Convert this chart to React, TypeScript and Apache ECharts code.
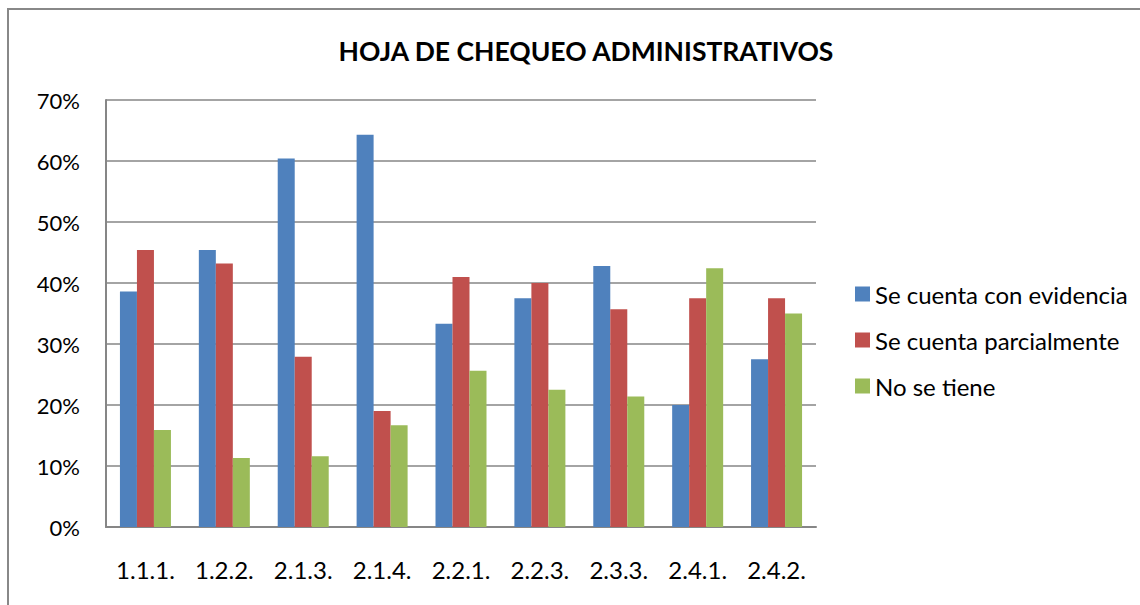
import React, { useEffect, useRef } from "react";
import * as echarts from "echarts";

const categories = ["1.1.1.", "1.2.2.", "2.1.3.", "2.1.4.", "2.2.1.", "2.2.3.", "2.3.3.", "2.4.1.", "2.4.2."];
const conEvidencia = [38.6, 45.4, 60.4, 64.3, 33.3, 37.5, 42.8, 20.0, 27.5];
const parcialmente = [45.4, 43.2, 27.9, 19.0, 41.0, 40.0, 35.7, 37.5, 37.5];
const noSeTiene = [15.9, 11.3, 11.6, 16.7, 25.6, 22.5, 21.4, 42.4, 35.0];
const seriesNames = ["Se cuenta con evidencia", "Se cuenta parcialmente", "No se tiene"];
const seriesColors = ["#4F81BD", "#C0504D", "#9BBB59"];

const FONT = "Lato, 'Open Sans', sans-serif";

export default function App() {
  const ref = useRef<HTMLDivElement>(null);

  useEffect(() => {
    if (!ref.current) return;
    const chart = echarts.init(ref.current, null, { renderer: "svg" });
    const values = [conEvidencia, parcialmente, noSeTiene];
    chart.setOption({
      animation: false,
      backgroundColor: "#ffffff",
      textStyle: { fontFamily: FONT },
      title: {
        text: "HOJA DE CHEQUEO ADMINISTRATIVOS",
        left: 581,
        top: 32,
        textAlign: "center",
        textStyle: { fontFamily: FONT, fontSize: 26.5, fontWeight: "bold", color: "#000" },
      },
      graphic: [
        {
          type: "rect",
          shape: { x: 8, y: 9, width: 1300, height: 800 },
          style: { fill: "none", stroke: "#888888", lineWidth: 2 },
          silent: true,
          z: 100,
        },
      ],
      legend: {
        orient: "vertical",
        left: 855,
        top: 282,
        padding: 0,
        itemWidth: 15,
        itemHeight: 15,
        itemGap: 22,
        icon: "rect",
        data: seriesNames,
        textStyle: { fontFamily: FONT, fontSize: 24, color: "#000" },
      },
      grid: { left: 106, top: 100, right: 324, bottom: 78, containLabel: false },
      xAxis: {
        type: "category",
        data: categories,
        axisLine: { lineStyle: { color: "#868686", width: 2 } },
        axisTick: { show: false },
        axisLabel: { color: "#000", fontSize: 24, fontFamily: FONT, margin: 30 },
      },
      yAxis: {
        type: "value",
        min: 0,
        max: 70,
        interval: 10,
        axisLine: { show: true, lineStyle: { color: "#868686", width: 2 } },
        axisTick: { show: false },
        splitLine: { lineStyle: { color: "#868686", width: 1.5 } },
        axisLabel: { color: "#000", fontSize: 22, fontFamily: FONT, margin: 26, formatter: "{value}%" },
      },
      series: seriesNames.map((name, i) => ({
        name,
        type: "bar",
        data: values[i],
        barWidth: 17,
        barGap: "0%",
        itemStyle: { color: seriesColors[i] },
      })),
    });
    return () => chart.dispose();
  }, []);

  return (
    <div
      ref={ref}
      style={{ position: "absolute", left: 0, top: 0, width: 1140, height: 605 }}
    />
  );
}
